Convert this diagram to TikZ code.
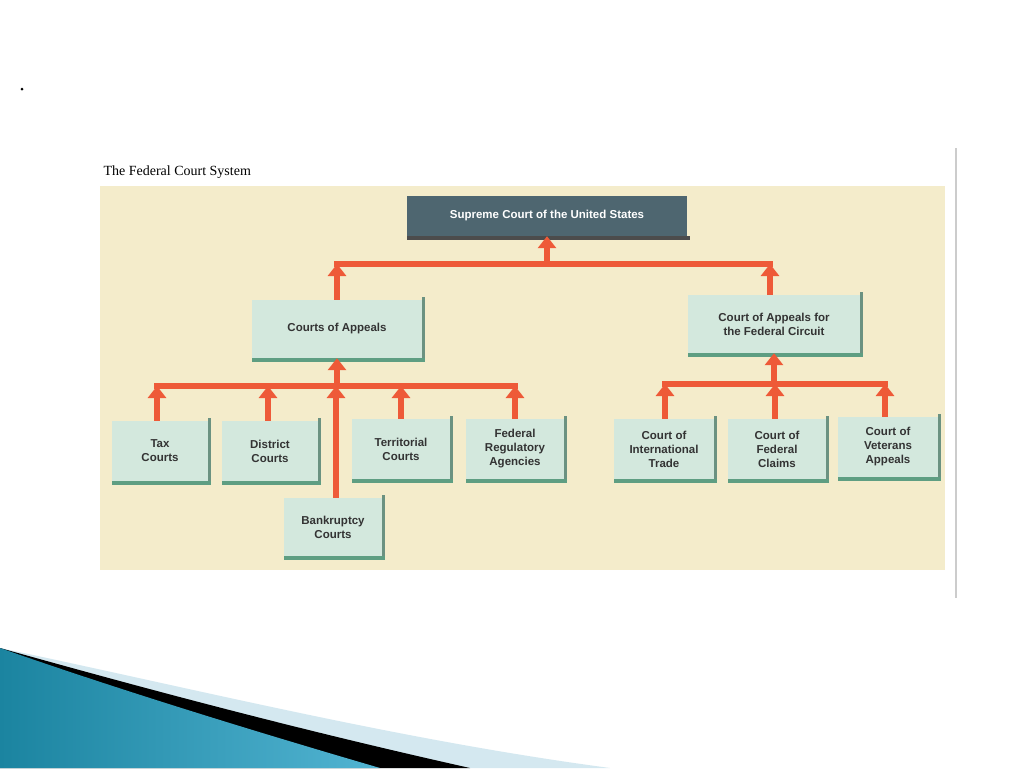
\documentclass[tikz,border=0pt]{standalone}
\usepackage{fontspec}
\setmainfont{Liberation Sans}
\newfontfamily\titlefont{Liberation Serif}
\usetikzlibrary{arrows.meta}
\definecolor{panel}{HTML}{F4ECCB}
\definecolor{boxfill}{HTML}{D3E8DD}
\definecolor{boxedge}{HTML}{5E9E82}
\definecolor{supfill}{HTML}{4E6670}
\definecolor{arrcol}{HTML}{EE5A38}
\definecolor{tealA}{HTML}{1B84A0}
\definecolor{tealB}{HTML}{52B4D2}
\definecolor{paleblue}{HTML}{D4E8F0}
\tikzset{
  x=1pt,y=-1pt,
  court/.style={fill=boxfill,draw=none,minimum width=#1,minimum height=60,align=center,
    font=\fontsize{11.5}{14}\selectfont\bfseries,text=black!80},
  court/.default=98,
  arr/.style={draw=arrcol,line width=6pt,-{Triangle[length=12pt,width=18pt]}},
  bar/.style={draw=arrcol,line width=6.5pt,line cap=rect},
}
\newcommand{\shadowbox}[1]{%
  \fill[boxedge] ([yshift=-4pt]#1.south west) rectangle ([xshift=3pt]#1.south east);
  \fill[boxedge!60!gray] ([yshift=3pt]#1.north east) rectangle ([xshift=3pt]#1.south east);}
\begin{document}
\begin{tikzpicture}
\useasboundingbox (0,0) rectangle (1024,768);
\fill[white] (0,0) rectangle (1024,768);
% swoosh
\fill[paleblue] (0,648) .. controls (200,690) and (400,740) .. (610,768) -- (0,768) -- cycle;
\fill[black] (0,648) .. controls (150,690) and (300,730) .. (470,768) -- (0,768) -- cycle;
\shade[left color=tealA,right color=tealB] (0,648) .. controls (120,690) and (250,730) .. (380,768) -- (0,768) -- cycle;
\fill[black] (22,89) circle (1.5);
% panel
\fill[panel] (100,186) rectangle (945,570);
\draw[gray!40,line width=2pt] (956,148) -- (956,598);
\node[anchor=west,font=\titlefont\fontsize{14}{16}\selectfont] (title) at (100,172) {The Federal Court System};
% boxes
\node[fill=supfill,minimum width=280,minimum height=40,text=white,font=\fontsize{11.5}{14}\selectfont\bfseries] (sc) at (547,216) {Supreme Court of the United States};
\fill[black!70] ([yshift=-4pt]sc.south west) rectangle ([xshift=3pt]sc.south east);
\node[court=170,minimum height=58] (ca) at (337,329) {Courts of Appeals};
\node[court=172,minimum height=58] (cafc) at (774,324) {Court of Appeals for\\the Federal Circuit};
\node[court=96] (tax) at (160,451) {Tax\\Courts};
\node[court=96] (dist) at (270,451) {District\\Courts};
\node[court=98] (terr) at (401,449) {Territorial\\Courts};
\node[court=98] (freg) at (515,449) {Federal\\Regulatory\\Agencies};
\node[court=98,minimum height=58] (bank) at (333,527) {Bankruptcy\\Courts};
\node[court=100] (cit) at (664,449) {Court of\\International\\Trade};
\node[court=98] (cfc) at (777,449) {Court of\\Federal\\Claims};
\node[court=100] (cva) at (888,447) {Court of\\Veterans\\Appeals};
\foreach \b in {ca,cafc,tax,dist,terr,freg,bank,cit,cfc,cva}{\shadowbox{\b}}
% connectors
\coordinate (t1) at (337,264); \coordinate (t2) at (770,264);
\draw[bar] (t1) -- (t2);
\draw[arr] (547,264) -- (sc.south -| 547,0);
\draw[arr] (ca.north) -- (t1);
\draw[arr] (cafc.north -| t2) -- (t2);
\coordinate (l1) at (157,386); \coordinate (l2) at (515,386);
\draw[bar] (l1) -- (l2);
\draw[arr] (337,386) -- (ca.south);
\draw[arr] (tax.north -| l1) -- (l1);
\draw[arr] (dist.north -| 268,0) -- (268,386);
\draw[arr] (terr.north) -- (401,386);
\draw[arr] (freg.north) -- (l2);
\draw[arr] (bank.north -| 336,0) -- (336,386);
\coordinate (r1) at (665,384); \coordinate (r2) at (885,384);
\draw[bar] (r1) -- (r2);
\draw[arr] (774,384) -- (cafc.south);
\draw[arr] (cit.north -| r1) -- (r1);
\draw[arr] (cfc.north -| 775,0) -- (775,384);
\draw[arr] (cva.north -| r2) -- (r2);
\end{tikzpicture}
\end{document}
